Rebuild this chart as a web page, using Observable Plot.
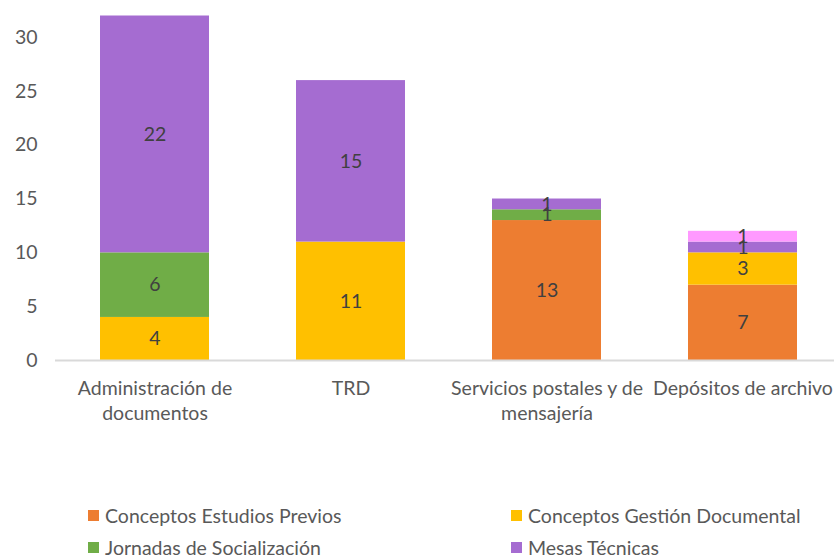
<!DOCTYPE html>
<html>
<head>
<meta charset="utf-8">
<script src="https://cdn.jsdelivr.net/npm/d3@7"></script>
<script src="https://cdn.jsdelivr.net/npm/@observablehq/plot@0.6"></script>
<style>
  html, body { margin: 0; padding: 0; background: #fff; overflow: hidden; }
  #wrap { width: 834px; font-family: Lato, "Open Sans", sans-serif; }
  #legend { display: grid; grid-template-columns: 423px auto; padding: 34px 0 0 88px; row-gap: 9px; }
  .item { display: flex; align-items: center; font-size: 19.5px; color: #595959; height: 23px; white-space: nowrap; }
  .sw { width: 11px; height: 11px; margin-right: 6px; flex: none; }
</style>
</head>
<body>
<div id="wrap"></div>
<script>
const categories = ["Administración de documentos", "TRD", "Servicios postales y de mensajería", "Depósitos de archivo"];
const tickLabels = ["Administración de\ndocumentos", "TRD", "Servicios postales y de\nmensajería", "Depósitos de archivo"];
const series = ["Conceptos Estudios Previos", "Conceptos Gestión Documental", "Jornadas de Socialización", "Mesas Técnicas", "Otros"];
const colors = ["#ED7D31", "#FFC000", "#70AD47", "#A56CD1", "#FF99FF"];
const legendSeries = ["Conceptos Estudios Previos", "Conceptos Gestión Documental", "Jornadas de Socialización", "Mesas Técnicas"];
const conceptosEstudiosPrevios = [0, 0, 13, 7];
const conceptosGestionDocumental = [4, 11, 0, 3];
const jornadasSocializacion = [6, 0, 1, 0];
const mesasTecnicas = [22, 15, 1, 1];
const otros = [0, 0, 0, 1];
const yTicks = [0, 5, 10, 15, 20, 25, 30];

const seriesValues = [conceptosEstudiosPrevios, conceptosGestionDocumental, jornadasSocializacion, mesasTecnicas, otros];
const data = [];
categories.forEach((c, i) => {
  series.forEach((s, j) => {
    const v = seriesValues[j][i];
    if (v > 0) data.push({category: c, series: s, value: v});
  });
});
const labelOf = new Map(categories.map((c, i) => [c, tickLabels[i]]));

const chart = Plot.plot({
  width: 834,
  height: 470,
  marginLeft: 55,
  marginRight: -8,
  marginTop: 15.5,
  marginBottom: 110,
  style: { fontFamily: "Lato, 'Open Sans', sans-serif", fontSize: "19.5px", color: "#595959", background: "#fff" },
  x: { domain: categories, paddingInner: 0.445, paddingOuter: 0.2225, label: null },
  y: { domain: [0, 32], label: null },
  color: { domain: series, range: colors },
  marks: [
    Plot.barY(data, Plot.stackY({ x: "category", y: "value", fill: "series", z: "series" })),
    Plot.text(data, Plot.stackY({ x: "category", y: "value", z: "series", text: d => String(d.value), fill: "#404040", fontSize: 19.5 })),
    Plot.ruleY([0], { stroke: "#d9d9d9", strokeWidth: 2 }),
    Plot.axisY({ ticks: yTicks, tickSize: 0, tickPadding: 18, label: null, fill: "#595959", fontSize: 19.5 }),
    Plot.axisX({ tickSize: 0, tickPadding: 16, label: null, tickFormat: d => labelOf.get(d), lineHeight: 1.3, fill: "#595959", fontSize: 19.5 })
  ]
});

const wrap = document.getElementById("wrap");
wrap.appendChild(chart);
const legend = document.createElement("div");
legend.id = "legend";
legendSeries.forEach((s) => {
  const it = document.createElement("div");
  it.className = "item";
  const sw = document.createElement("span");
  sw.className = "sw";
  sw.style.background = colors[series.indexOf(s)];
  it.appendChild(sw);
  it.appendChild(document.createTextNode(s));
  legend.appendChild(it);
});
wrap.appendChild(legend);
</script>
</body>
</html>
